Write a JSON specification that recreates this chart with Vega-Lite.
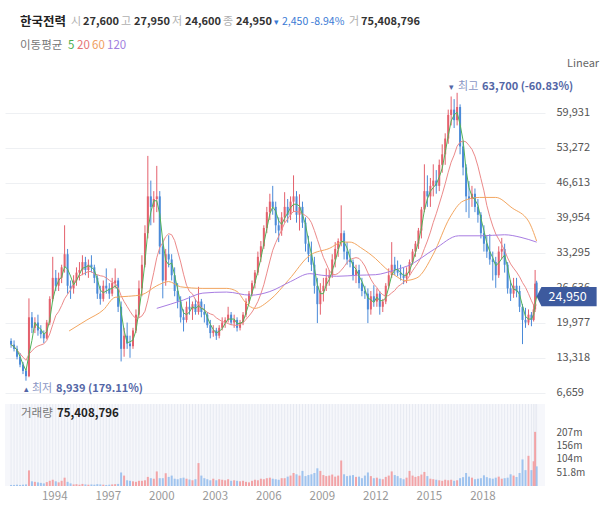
{
  "$schema": "https://vega.github.io/schema/vega-lite/v6.json",
  "background": "white",
  "padding": 5,
  "spacing": 2,
  "config": {
    "view": {"stroke": null},
    "font": "Noto Sans CJK KR",
    "axis": {"labelFont": "Noto Sans CJK KR"},
    "text": {"font": "Noto Sans CJK KR"}
  },
  "datasets": {
    "px": [
      {"t":"1991-08-01","o":16500,"h":17000,"l":15200,"c":15800,"v":4},
      {"t":"1991-10-01","o":15800,"h":16600,"l":14500,"c":15000,"v":4},
      {"t":"1991-12-01","o":15000,"h":15600,"l":13000,"c":13500,"v":5},
      {"t":"1992-02-01","o":13500,"h":14200,"l":11500,"c":12000,"v":4},
      {"t":"1992-04-01","o":12000,"h":12500,"l":10200,"c":10800,"v":5},
      {"t":"1992-06-01","o":10800,"h":11200,"l":8939,"c":9800,"v":6},
      {"t":"1992-08-01","o":9800,"h":24600,"l":9600,"c":21000,"v":60},
      {"t":"1992-10-01","o":21000,"h":22000,"l":18000,"c":19000,"v":18},
      {"t":"1992-12-01","o":19000,"h":21000,"l":18000,"c":20000,"v":16},
      {"t":"1993-02-01","o":20000,"h":21500,"l":17500,"c":18500,"v":14},
      {"t":"1993-04-01","o":18500,"h":19500,"l":17000,"c":17800,"v":12},
      {"t":"1993-06-01","o":17800,"h":18500,"l":16100,"c":17000,"v":10},
      {"t":"1993-08-01","o":17000,"h":20500,"l":16800,"c":20000,"v":15},
      {"t":"1993-10-01","o":20000,"h":25000,"l":19500,"c":24500,"v":20},
      {"t":"1993-12-01","o":24500,"h":32500,"l":24000,"c":28500,"v":24},
      {"t":"1994-02-01","o":28500,"h":30000,"l":26000,"c":27000,"v":18},
      {"t":"1994-04-01","o":27000,"h":29500,"l":26000,"c":28500,"v":14},
      {"t":"1994-06-01","o":28500,"h":31000,"l":27500,"c":30500,"v":20},
      {"t":"1994-08-01","o":30500,"h":38500,"l":29500,"c":33000,"v":32},
      {"t":"1994-10-01","o":33000,"h":34000,"l":25500,"c":27000,"v":16},
      {"t":"1994-12-01","o":27000,"h":28000,"l":24500,"c":26500,"v":10},
      {"t":"1995-02-01","o":26500,"h":29000,"l":25500,"c":28000,"v":6},
      {"t":"1995-04-01","o":28000,"h":30500,"l":27000,"c":29500,"v":7},
      {"t":"1995-06-01","o":29500,"h":31500,"l":28000,"c":30000,"v":5},
      {"t":"1995-08-01","o":30000,"h":32800,"l":29000,"c":31500,"v":8},
      {"t":"1995-10-01","o":31500,"h":32500,"l":29000,"c":30000,"v":6},
      {"t":"1995-12-01","o":30000,"h":32000,"l":28500,"c":31000,"v":5},
      {"t":"1996-02-01","o":31000,"h":32800,"l":29500,"c":30500,"v":6},
      {"t":"1996-04-01","o":30500,"h":31000,"l":27500,"c":28500,"v":5},
      {"t":"1996-06-01","o":28500,"h":29000,"l":24500,"c":25500,"v":7},
      {"t":"1996-08-01","o":25500,"h":27000,"l":23400,"c":24500,"v":6},
      {"t":"1996-10-01","o":24500,"h":28000,"l":24000,"c":27000,"v":5},
      {"t":"1996-12-01","o":27000,"h":30300,"l":25500,"c":26500,"v":4},
      {"t":"1997-02-01","o":26500,"h":27500,"l":24500,"c":25500,"v":5},
      {"t":"1997-04-01","o":25500,"h":28500,"l":25000,"c":27500,"v":6},
      {"t":"1997-06-01","o":27500,"h":30300,"l":26500,"c":28000,"v":7},
      {"t":"1997-08-01","o":28000,"h":28500,"l":22000,"c":23000,"v":8},
      {"t":"1997-10-01","o":23000,"h":24000,"l":12600,"c":15000,"v":52},
      {"t":"1997-12-01","o":15000,"h":19000,"l":13500,"c":17500,"v":40},
      {"t":"1998-02-01","o":17500,"h":20000,"l":15000,"c":16000,"v":22},
      {"t":"1998-04-01","o":16000,"h":17500,"l":13300,"c":15500,"v":20},
      {"t":"1998-06-01","o":15500,"h":19000,"l":15000,"c":18500,"v":18},
      {"t":"1998-08-01","o":18500,"h":22500,"l":18000,"c":21500,"v":16},
      {"t":"1998-10-01","o":21500,"h":28000,"l":21000,"c":26500,"v":20},
      {"t":"1998-12-01","o":26500,"h":32800,"l":25000,"c":31000,"v":20},
      {"t":"1999-02-01","o":31000,"h":38500,"l":30500,"c":37000,"v":22},
      {"t":"1999-04-01","o":37000,"h":51700,"l":36000,"c":44000,"v":35},
      {"t":"1999-06-01","o":44000,"h":47000,"l":38500,"c":42000,"v":30},
      {"t":"1999-08-01","o":42000,"h":45000,"l":39000,"c":43500,"v":28},
      {"t":"1999-10-01","o":43500,"h":49800,"l":41000,"c":44000,"v":56},
      {"t":"1999-12-01","o":44000,"h":45000,"l":33000,"c":34500,"v":30},
      {"t":"2000-02-01","o":34500,"h":36000,"l":24600,"c":28000,"v":30},
      {"t":"2000-04-01","o":28000,"h":34000,"l":27000,"c":33000,"v":49},
      {"t":"2000-06-01","o":33000,"h":36600,"l":30500,"c":32000,"v":35},
      {"t":"2000-08-01","o":32000,"h":33000,"l":28000,"c":29000,"v":40},
      {"t":"2000-10-01","o":29000,"h":30500,"l":25000,"c":26000,"v":28},
      {"t":"2000-12-01","o":26000,"h":27500,"l":22700,"c":24000,"v":26},
      {"t":"2001-02-01","o":24000,"h":25000,"l":20000,"c":21000,"v":30},
      {"t":"2001-04-01","o":21000,"h":22500,"l":18300,"c":20500,"v":32},
      {"t":"2001-06-01","o":20500,"h":24000,"l":20000,"c":23000,"v":28},
      {"t":"2001-08-01","o":23000,"h":25000,"l":21500,"c":22500,"v":25},
      {"t":"2001-10-01","o":22500,"h":24000,"l":20500,"c":23500,"v":22},
      {"t":"2001-12-01","o":23500,"h":24500,"l":21500,"c":22000,"v":26},
      {"t":"2002-02-01","o":22000,"h":26800,"l":21500,"c":24000,"v":88},
      {"t":"2002-04-01","o":24000,"h":24500,"l":21000,"c":22000,"v":40},
      {"t":"2002-06-01","o":22000,"h":23500,"l":20000,"c":21500,"v":30},
      {"t":"2002-08-01","o":21500,"h":22000,"l":19000,"c":19500,"v":26},
      {"t":"2002-10-01","o":19500,"h":20500,"l":17000,"c":18000,"v":22},
      {"t":"2002-12-01","o":18000,"h":19500,"l":17300,"c":18500,"v":28},
      {"t":"2003-02-01","o":18500,"h":19000,"l":16700,"c":17500,"v":22},
      {"t":"2003-04-01","o":17500,"h":19500,"l":17000,"c":19000,"v":26},
      {"t":"2003-06-01","o":19000,"h":21000,"l":18500,"c":20000,"v":24},
      {"t":"2003-08-01","o":20000,"h":21000,"l":19000,"c":20500,"v":22},
      {"t":"2003-10-01","o":20500,"h":23000,"l":20000,"c":21500,"v":26},
      {"t":"2003-12-01","o":21500,"h":22000,"l":19500,"c":20000,"v":20},
      {"t":"2004-02-01","o":20000,"h":21500,"l":19000,"c":20500,"v":22},
      {"t":"2004-04-01","o":20500,"h":21000,"l":18300,"c":19000,"v":20},
      {"t":"2004-06-01","o":19000,"h":20500,"l":18500,"c":20000,"v":18},
      {"t":"2004-08-01","o":20000,"h":22000,"l":19500,"c":21500,"v":20},
      {"t":"2004-10-01","o":21500,"h":24600,"l":21000,"c":24000,"v":16},
      {"t":"2004-12-01","o":24000,"h":26000,"l":23500,"c":25500,"v":14},
      {"t":"2005-02-01","o":25500,"h":28000,"l":25000,"c":27500,"v":20},
      {"t":"2005-04-01","o":27500,"h":30000,"l":26500,"c":29500,"v":24},
      {"t":"2005-06-01","o":29500,"h":33500,"l":29000,"c":32500,"v":22},
      {"t":"2005-08-01","o":32500,"h":35500,"l":31500,"c":34500,"v":28},
      {"t":"2005-10-01","o":34500,"h":38500,"l":34000,"c":38000,"v":26},
      {"t":"2005-12-01","o":38000,"h":42000,"l":37000,"c":41000,"v":30},
      {"t":"2006-02-01","o":41000,"h":44500,"l":39500,"c":43000,"v":32},
      {"t":"2006-04-01","o":43000,"h":46000,"l":40500,"c":42000,"v":28},
      {"t":"2006-06-01","o":42000,"h":43000,"l":37000,"c":38500,"v":26},
      {"t":"2006-08-01","o":38500,"h":40000,"l":35300,"c":37500,"v":24},
      {"t":"2006-10-01","o":37500,"h":41000,"l":36500,"c":40000,"v":30},
      {"t":"2006-12-01","o":40000,"h":44800,"l":39000,"c":42000,"v":30},
      {"t":"2007-02-01","o":42000,"h":43500,"l":39000,"c":40500,"v":36},
      {"t":"2007-04-01","o":40500,"h":44000,"l":39500,"c":43000,"v":40},
      {"t":"2007-06-01","o":43000,"h":48000,"l":41000,"c":44000,"v":50},
      {"t":"2007-08-01","o":44000,"h":45000,"l":39000,"c":40500,"v":45},
      {"t":"2007-10-01","o":40500,"h":44400,"l":37500,"c":42000,"v":40},
      {"t":"2007-12-01","o":42000,"h":43000,"l":38000,"c":39000,"v":58},
      {"t":"2008-02-01","o":39000,"h":40000,"l":33500,"c":35000,"v":38},
      {"t":"2008-04-01","o":35000,"h":36500,"l":31500,"c":33000,"v":42},
      {"t":"2008-06-01","o":33000,"h":35400,"l":29800,"c":31000,"v":45},
      {"t":"2008-08-01","o":31000,"h":32500,"l":25500,"c":27000,"v":50},
      {"t":"2008-10-01","o":27000,"h":28500,"l":19900,"c":23500,"v":68},
      {"t":"2008-12-01","o":23500,"h":27500,"l":21500,"c":26000,"v":58},
      {"t":"2009-02-01","o":26000,"h":28500,"l":24000,"c":27000,"v":42},
      {"t":"2009-04-01","o":27000,"h":30300,"l":26000,"c":28500,"v":38},
      {"t":"2009-06-01","o":28500,"h":30000,"l":27000,"c":29000,"v":40},
      {"t":"2009-08-01","o":29000,"h":33000,"l":28500,"c":32000,"v":44},
      {"t":"2009-10-01","o":32000,"h":35300,"l":30500,"c":34000,"v":36},
      {"t":"2009-12-01","o":34000,"h":36000,"l":32500,"c":35500,"v":40},
      {"t":"2010-02-01","o":35500,"h":42300,"l":34500,"c":37000,"v":98},
      {"t":"2010-04-01","o":37000,"h":37500,"l":32000,"c":33500,"v":45},
      {"t":"2010-06-01","o":33500,"h":35300,"l":31000,"c":32000,"v":38},
      {"t":"2010-08-01","o":32000,"h":34000,"l":30500,"c":31500,"v":40},
      {"t":"2010-10-01","o":31500,"h":32000,"l":28000,"c":29000,"v":42},
      {"t":"2010-12-01","o":29000,"h":31000,"l":27500,"c":30000,"v":35},
      {"t":"2011-02-01","o":30000,"h":31000,"l":26500,"c":27500,"v":36},
      {"t":"2011-04-01","o":27500,"h":28500,"l":25000,"c":26000,"v":30},
      {"t":"2011-06-01","o":26000,"h":27000,"l":24500,"c":25500,"v":40},
      {"t":"2011-08-01","o":25500,"h":26500,"l":19900,"c":22500,"v":52},
      {"t":"2011-10-01","o":22500,"h":26000,"l":21500,"c":25000,"v":38},
      {"t":"2011-12-01","o":25000,"h":27100,"l":23000,"c":24000,"v":30},
      {"t":"2012-02-01","o":24000,"h":26500,"l":23000,"c":25500,"v":32},
      {"t":"2012-04-01","o":25500,"h":26000,"l":21500,"c":23000,"v":28},
      {"t":"2012-06-01","o":23000,"h":24500,"l":22000,"c":24000,"v":26},
      {"t":"2012-08-01","o":24000,"h":27500,"l":23500,"c":27000,"v":35},
      {"t":"2012-10-01","o":27000,"h":30300,"l":26500,"c":29000,"v":40},
      {"t":"2012-12-01","o":29000,"h":35300,"l":28500,"c":31000,"v":56},
      {"t":"2013-02-01","o":31000,"h":32500,"l":29000,"c":30000,"v":42},
      {"t":"2013-04-01","o":30000,"h":31800,"l":28800,"c":29500,"v":38},
      {"t":"2013-06-01","o":29500,"h":31000,"l":28000,"c":29000,"v":30},
      {"t":"2013-08-01","o":29000,"h":30400,"l":27300,"c":28500,"v":26},
      {"t":"2013-10-01","o":28500,"h":30500,"l":27500,"c":29500,"v":32},
      {"t":"2013-12-01","o":29500,"h":32000,"l":29000,"c":31500,"v":58},
      {"t":"2014-02-01","o":31500,"h":34000,"l":31000,"c":33500,"v":40},
      {"t":"2014-04-01","o":33500,"h":35500,"l":32500,"c":35000,"v":35},
      {"t":"2014-06-01","o":35000,"h":38000,"l":34000,"c":37500,"v":38},
      {"t":"2014-08-01","o":37500,"h":42000,"l":36000,"c":41500,"v":44},
      {"t":"2014-10-01","o":41500,"h":50100,"l":41000,"c":45000,"v":54},
      {"t":"2014-12-01","o":45000,"h":48000,"l":42000,"c":44000,"v":38},
      {"t":"2015-02-01","o":44000,"h":47500,"l":42000,"c":46000,"v":28},
      {"t":"2015-04-01","o":46000,"h":50100,"l":44000,"c":47000,"v":26},
      {"t":"2015-06-01","o":47000,"h":49000,"l":44500,"c":46000,"v":24},
      {"t":"2015-08-01","o":46000,"h":51000,"l":45000,"c":50000,"v":22},
      {"t":"2015-10-01","o":50000,"h":53900,"l":48500,"c":52000,"v":20},
      {"t":"2015-12-01","o":52000,"h":56000,"l":50000,"c":55000,"v":24},
      {"t":"2016-02-01","o":55000,"h":60500,"l":54000,"c":59500,"v":22},
      {"t":"2016-04-01","o":59500,"h":63000,"l":57500,"c":60500,"v":24},
      {"t":"2016-06-01","o":60500,"h":62500,"l":57000,"c":58500,"v":20},
      {"t":"2016-08-01","o":58500,"h":63700,"l":57500,"c":61000,"v":22},
      {"t":"2016-10-01","o":61000,"h":61500,"l":52000,"c":53500,"v":30},
      {"t":"2016-12-01","o":53500,"h":54500,"l":48000,"c":49500,"v":34},
      {"t":"2017-02-01","o":49500,"h":50100,"l":41000,"c":44000,"v":50},
      {"t":"2017-04-01","o":44000,"h":46900,"l":39900,"c":43500,"v":36},
      {"t":"2017-06-01","o":43500,"h":46000,"l":42000,"c":44500,"v":32},
      {"t":"2017-08-01","o":44500,"h":45500,"l":41000,"c":42000,"v":26},
      {"t":"2017-10-01","o":42000,"h":43500,"l":39000,"c":40500,"v":28},
      {"t":"2017-12-01","o":40500,"h":41000,"l":36000,"c":37000,"v":30},
      {"t":"2018-02-01","o":37000,"h":38500,"l":33500,"c":35000,"v":41},
      {"t":"2018-04-01","o":35000,"h":36500,"l":32300,"c":33500,"v":34},
      {"t":"2018-06-01","o":33500,"h":36800,"l":31000,"c":32000,"v":30},
      {"t":"2018-08-01","o":32000,"h":33500,"l":28000,"c":31500,"v":28},
      {"t":"2018-10-01","o":31500,"h":32500,"l":26600,"c":29000,"v":32},
      {"t":"2018-12-01","o":29000,"h":34500,"l":28500,"c":33500,"v":36},
      {"t":"2019-02-01","o":33500,"h":36100,"l":32000,"c":34000,"v":28},
      {"t":"2019-04-01","o":34000,"h":35000,"l":29500,"c":31000,"v":30},
      {"t":"2019-06-01","o":31000,"h":31500,"l":25500,"c":26500,"v":32},
      {"t":"2019-08-01","o":26500,"h":28000,"l":24100,"c":25500,"v":45},
      {"t":"2019-10-01","o":25500,"h":28500,"l":24700,"c":27000,"v":40},
      {"t":"2019-12-01","o":27000,"h":28500,"l":24800,"c":26000,"v":35},
      {"t":"2020-02-01","o":26000,"h":27000,"l":22000,"c":23000,"v":50},
      {"t":"2020-04-01","o":23000,"h":23500,"l":15900,"c":20500,"v":102},
      {"t":"2020-06-01","o":20500,"h":22800,"l":19000,"c":20000,"v":61},
      {"t":"2020-08-01","o":20000,"h":22500,"l":19500,"c":21500,"v":116},
      {"t":"2020-10-01","o":21500,"h":22000,"l":19300,"c":20500,"v":61},
      {"t":"2020-11-15","o":20500,"h":23500,"l":20200,"c":22500,"v":95},
      {"t":"2020-12-15","o":22500,"h":30000,"l":22000,"c":27400,"v":208},
      {"t":"2021-01-15","o":27600,"h":27950,"l":24600,"c":24950,"v":75.4}
    ],
    "ma60": [
      {"t":"1994-11-01","m":18400},
      {"t":"1995-11-01","m":20500},
      {"t":"1996-10-01","m":22400},
      {"t":"1997-06-01","m":24800},
      {"t":"1998-03-01","m":25000},
      {"t":"1998-12-01","m":25300},
      {"t":"1999-10-01","m":27000},
      {"t":"2000-06-01","m":27800},
      {"t":"2001-02-01","m":26800},
      {"t":"2002-05-01","m":26500},
      {"t":"2003-09-01","m":26500},
      {"t":"2004-04-01","m":25900},
      {"t":"2004-10-01","m":23700},
      {"t":"2005-04-01","m":22700},
      {"t":"2006-02-01","m":24300},
      {"t":"2007-03-01","m":28200},
      {"t":"2008-05-01","m":32800},
      {"t":"2009-06-01","m":34100},
      {"t":"2010-03-01","m":35300},
      {"t":"2010-08-01","m":35300},
      {"t":"2011-04-01","m":34100},
      {"t":"2012-01-01","m":32200},
      {"t":"2012-08-01","m":30300},
      {"t":"2013-02-01","m":29000},
      {"t":"2013-09-01","m":28000},
      {"t":"2014-05-01","m":28500},
      {"t":"2015-04-01","m":33000},
      {"t":"2016-03-01","m":39900},
      {"t":"2016-12-01","m":43100},
      {"t":"2017-11-01","m":43800},
      {"t":"2018-10-01","m":43800},
      {"t":"2019-09-01","m":41800},
      {"t":"2020-08-01","m":39300},
      {"t":"2021-01-15","m":35500}
    ],
    "ma120": [
      {"t":"1999-10-01","m":22700},
      {"t":"2001-04-01","m":24300},
      {"t":"2002-05-01","m":25600},
      {"t":"2003-09-01","m":25800},
      {"t":"2005-01-01","m":25200},
      {"t":"2006-02-01","m":25900},
      {"t":"2007-04-01","m":27800},
      {"t":"2008-05-01","m":29300},
      {"t":"2009-01-01","m":29000},
      {"t":"2009-11-01","m":28800},
      {"t":"2011-01-01","m":29000},
      {"t":"2012-01-01","m":29100},
      {"t":"2013-02-01","m":30000},
      {"t":"2013-11-01","m":30800},
      {"t":"2015-05-01","m":34000},
      {"t":"2016-09-01","m":36500},
      {"t":"2017-12-01","m":36500},
      {"t":"2019-04-01","m":36700},
      {"t":"2020-03-01","m":36200},
      {"t":"2021-01-15","m":35300}
    ]
  },
  "vconcat": [
    {
      "width": 540,
      "height": 73,
      "data": {"values": [{}]},
      "layer": [
        {"mark": {"type": "text", "text": "한국전력", "x": 15, "y": 17, "align": "left", "baseline": "middle", "fontSize": 12.5, "fontWeight": "bold", "color": "#222222"}},
        {"mark": {"type": "text", "text": "시", "x": 66, "y": 17, "align": "left", "baseline": "middle", "fontSize": 11, "color": "#b0b0b0"}},
        {"mark": {"type": "text", "text": "27,600", "x": 78, "y": 17, "align": "left", "baseline": "middle", "fontSize": 11, "fontWeight": "bold", "color": "#333333"}},
        {"mark": {"type": "text", "text": "고", "x": 116, "y": 17, "align": "left", "baseline": "middle", "fontSize": 11, "color": "#b0b0b0"}},
        {"mark": {"type": "text", "text": "27,950", "x": 129, "y": 17, "align": "left", "baseline": "middle", "fontSize": 11, "fontWeight": "bold", "color": "#333333"}},
        {"mark": {"type": "text", "text": "저", "x": 167, "y": 17, "align": "left", "baseline": "middle", "fontSize": 11, "color": "#b0b0b0"}},
        {"mark": {"type": "text", "text": "24,600", "x": 180, "y": 17, "align": "left", "baseline": "middle", "fontSize": 11, "fontWeight": "bold", "color": "#333333"}},
        {"mark": {"type": "text", "text": "종", "x": 218, "y": 17, "align": "left", "baseline": "middle", "fontSize": 11, "color": "#b0b0b0"}},
        {"mark": {"type": "text", "text": "24,950", "x": 231, "y": 17, "align": "left", "baseline": "middle", "fontSize": 11, "fontWeight": "bold", "color": "#333333"}},
        {"mark": {"type": "text", "text": "▾", "x": 269, "y": 17, "align": "left", "baseline": "middle", "fontSize": 9, "color": "#3a7bd5"}},
        {"mark": {"type": "text", "text": "2,450 -8.94%", "x": 277, "y": 17, "align": "left", "baseline": "middle", "fontSize": 10.5, "color": "#3a7bd5"}},
        {"mark": {"type": "text", "text": "거", "x": 344, "y": 17, "align": "left", "baseline": "middle", "fontSize": 11, "color": "#b0b0b0"}},
        {"mark": {"type": "text", "text": "75,408,796", "x": 356, "y": 17, "align": "left", "baseline": "middle", "fontSize": 11, "fontWeight": "bold", "color": "#333333"}},
        {"mark": {"type": "text", "text": "이동평균", "x": 15, "y": 41, "align": "left", "baseline": "middle", "fontSize": 11.5, "color": "#777777"}},
        {"mark": {"type": "text", "text": "5", "x": 63, "y": 41, "align": "left", "baseline": "middle", "fontSize": 11.5, "color": "#4caf50"}},
        {"mark": {"type": "text", "text": "20", "x": 72, "y": 41, "align": "left", "baseline": "middle", "fontSize": 11.5, "color": "#e57373"}},
        {"mark": {"type": "text", "text": "60", "x": 87, "y": 41, "align": "left", "baseline": "middle", "fontSize": 11.5, "color": "#f0a060"}},
        {"mark": {"type": "text", "text": "120", "x": 102, "y": 41, "align": "left", "baseline": "middle", "fontSize": 11.5, "color": "#a07ee0"}},
        {"mark": {"type": "text", "text": "Linear", "x": 562, "y": 59, "align": "left", "baseline": "middle", "fontSize": 11, "color": "#666666"}}
      ]
    },
    {
      "width": 540,
      "height": 320,
      "data": {"name": "px"},
      "encoding": {
        "x": {
          "field": "t",
          "type": "temporal",
          "scale": {"domain": [{"year": 1991, "month": 7, "date": 10}, {"year": 2021, "month": 3, "date": 25}], "nice": false},
          "axis": null
        }
      },
      "layer": [
        {
          "mark": {"type": "rule", "strokeWidth": 1},
          "encoding": {
            "y": {
              "field": "l",
              "type": "quantitative",
              "scale": {"domain": [5080, 65945], "nice": false, "zero": false},
              "axis": {
                "orient": "right",
                "values": [6659, 13318, 19977, 26636, 33295, 39954, 46613, 53272, 59931],
                "tickCount": 20,
                "labelExpr": "format(datum.value, ',')",
                "labelOverlap": false,
                "title": null,
                "ticks": false,
                "domain": false,
                "labelPadding": 11,
                "labelColor": "#555555",
                "labelFontSize": 11,
                "gridColor": "#eef0f3"
              }
            },
            "y2": {"field": "h"},
            "color": {"condition": {"test": "datum.c >= datum.o", "value": "#e4606c"}, "value": "#4a8ad8"}
          }
        },
        {
          "mark": {"type": "bar", "size": 2},
          "encoding": {
            "y": {"field": "o", "type": "quantitative"},
            "y2": {"field": "c"},
            "color": {"condition": {"test": "datum.c >= datum.o", "value": "#e4606c"}, "value": "#4a8ad8"}
          }
        },
        {
          "transform": [{"window": [{"op": "mean", "field": "c", "as": "m20"}], "frame": [-9, 0], "sort": [{"field": "t"}]}],
          "mark": {"type": "line", "color": "#ec8a8a", "strokeWidth": 1},
          "encoding": {"y": {"field": "m20", "type": "quantitative"}}
        },
        {
          "data": {"name": "ma60"},
          "mark": {"type": "line", "color": "#f3a660", "strokeWidth": 1, "interpolate": "monotone"},
          "encoding": {"y": {"field": "m", "type": "quantitative"}}
        },
        {
          "data": {"name": "ma120"},
          "mark": {"type": "line", "color": "#a87de2", "strokeWidth": 1, "interpolate": "monotone"},
          "encoding": {"y": {"field": "m", "type": "quantitative"}}
        },
        {
          "transform": [{"window": [{"op": "mean", "field": "c", "as": "m5"}], "frame": [-2, 0], "sort": [{"field": "t"}]}],
          "mark": {"type": "line", "color": "#52b35a", "strokeWidth": 1},
          "encoding": {"y": {"field": "m5", "type": "quantitative"}}
        },
        {
          "transform": [{"filter": "datum.h >= 63700"}],
          "layer": [
            {"mark": {"type": "text", "text": "▾", "align": "left", "baseline": "middle", "dx": -8, "dy": -6, "fontSize": 9, "color": "#5366a6"}},
            {"mark": {"type": "text", "text": "최고", "align": "left", "baseline": "middle", "dx": 1, "dy": -6, "fontSize": 11, "color": "#8a96c4"}},
            {"mark": {"type": "text", "text": "63,700 (-60.83%)", "align": "left", "baseline": "middle", "dx": 25, "dy": -6, "fontSize": 11, "fontWeight": "bold", "color": "#5366a6"}}
          ],
          "encoding": {"y": {"field": "h", "type": "quantitative"}}
        },
        {
          "transform": [{"filter": "datum.l <= 8939"}],
          "layer": [
            {"mark": {"type": "text", "text": "▴", "align": "left", "baseline": "middle", "dx": -2, "dy": 8, "fontSize": 9, "color": "#5366a6"}},
            {"mark": {"type": "text", "text": "최저", "align": "left", "baseline": "middle", "dx": 6, "dy": 8, "fontSize": 11, "color": "#8a96c4"}},
            {"mark": {"type": "text", "text": "8,939 (179.11%)", "align": "left", "baseline": "middle", "dx": 30, "dy": 8, "fontSize": 11, "fontWeight": "bold", "color": "#5366a6"}}
          ],
          "encoding": {"y": {"field": "l", "type": "quantitative"}}
        },
        {
          "transform": [{"filter": "datum.c == 24950"}],
          "layer": [
            {"mark": {"type": "point", "shape": "M0,0L0.08,-0.16L1,-0.16L1,0.16L0.08,0.16Z", "size": 14400, "filled": true, "opacity": 1, "color": "#3d5a9e", "strokeWidth": 0}},
            {"mark": {"type": "text", "text": "24,950", "align": "center", "baseline": "middle", "dx": 31, "fontSize": 12.5, "color": "white"}}
          ],
          "encoding": {"y": {"field": "c", "type": "quantitative"}}
        }
      ]
    },
    {
      "width": 540,
      "height": 82,
      "view": {"fill": "#f6f7fb"},
      "layer": [
        {
          "data": {"name": "px"},
          "encoding": {
            "x": {
              "field": "t",
              "type": "temporal",
              "scale": {"domain": [{"year": 1991, "month": 7, "date": 10}, {"year": 2021, "month": 3, "date": 25}], "nice": false},
              "axis": {
                "values": [{"year": 1994}, {"year": 1997}, {"year": 2000}, {"year": 2003}, {"year": 2006}, {"year": 2009}, {"year": 2012}, {"year": 2015}, {"year": 2018}],
                "tickCount": 20,
                "format": "%Y",
                "title": null,
                "ticks": false,
                "domain": false,
                "grid": false,
                "labelFlush": false,
                "labelPadding": 4,
                "labelColor": "#999999",
                "labelFontSize": 11.5
              }
            }
          },
          "layer": [
            {"mark": {"type": "rule", "color": "#e7eaf2", "strokeWidth": 1}, "encoding": {}},
            {
              "mark": {"type": "bar", "size": 2},
              "encoding": {
                "y": {
                  "field": "v",
                  "type": "quantitative",
                  "scale": {"domain": [0, 315], "nice": false},
                  "axis": {
                    "orient": "right",
                    "values": [51.8, 104, 156, 207],
                    "tickCount": 20,
                    "labelExpr": "datum.value + 'm'",
                    "labelOverlap": false,
                    "title": null,
                    "ticks": false,
                    "domain": false,
                    "grid": false,
                    "labelPadding": 11,
                    "labelColor": "#555555",
                    "labelFontSize": 10
                  }
                },
                "color": {"condition": {"test": "datum.c >= datum.o", "value": "#f2a3a6"}, "value": "#9fc3ee"}
              }
            }
          ]
        },
        {
          "data": {"values": [{}]},
          "layer": [
            {"mark": {"type": "text", "text": "거래량", "x": 16, "y": 10, "align": "left", "baseline": "middle", "fontSize": 11.5, "color": "#777777"}},
            {"mark": {"type": "text", "text": "75,408,796", "x": 52, "y": 10, "align": "left", "baseline": "middle", "fontSize": 11.5, "fontWeight": "bold", "color": "#222222"}}
          ]
        }
      ]
    }
  ]
}
